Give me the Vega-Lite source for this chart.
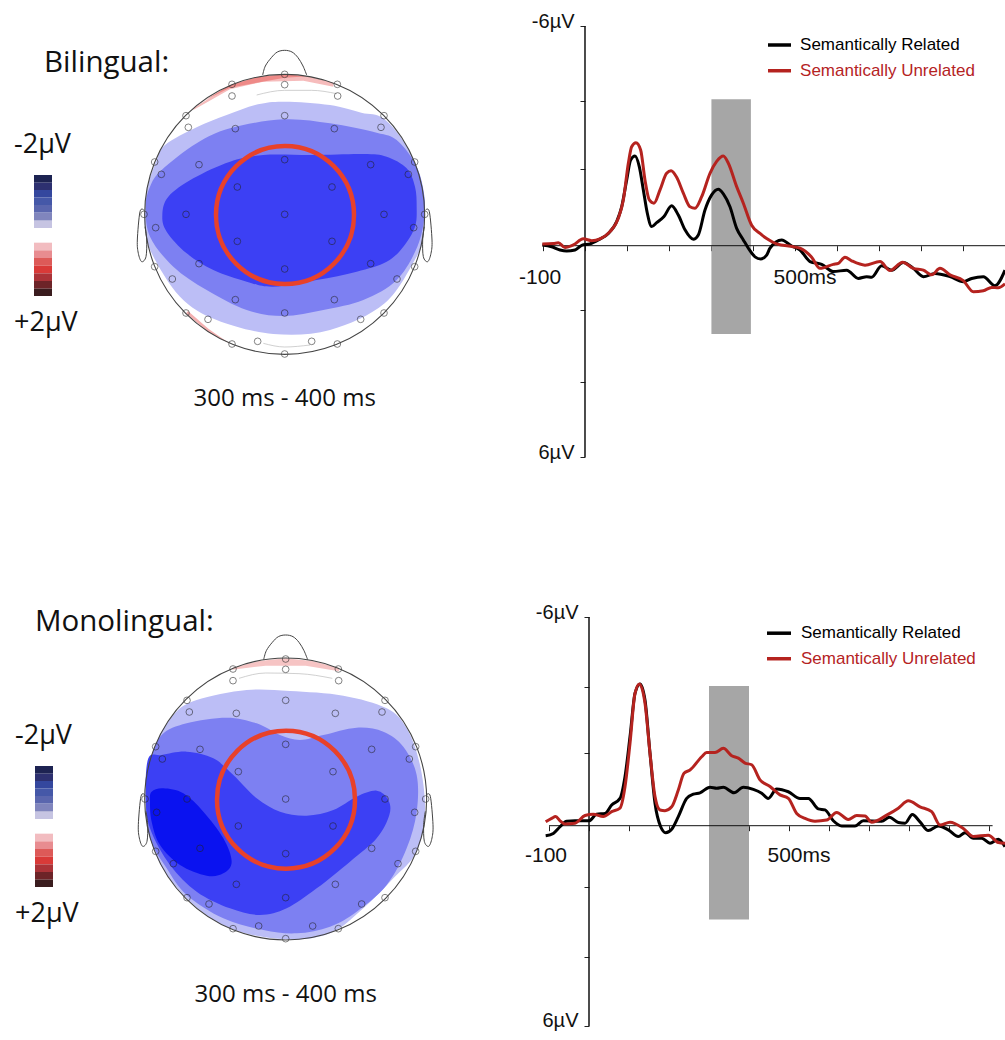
{"$schema":"https://vega.github.io/schema/vega-lite/v6.json","padding":0,"background":"white","bounds":"flush","columns":2,"spacing":0,"resolve":{"scale":{"color":"independent"}},"config":{"view":{"stroke":null},"concat":{"spacing":0}},
"datasets":{
"electrodes":[{"x":0,"y":420},{"x":0,"y":389},{"x":-158,"y":390},{"x":158,"y":390},{"x":-158,"y":355},{"x":159,"y":355},{"x":-296,"y":296},{"x":298,"y":296},{"x":0,"y":296},{"x":-289,"y":261},{"x":289,"y":261},{"x":-148,"y":257},{"x":149,"y":257},{"x":-390,"y":157},{"x":390,"y":157},{"x":-257,"y":149},{"x":258,"y":149},{"x":-370,"y":120},{"x":371,"y":120},{"x":0,"y":164},{"x":-142,"y":82},{"x":142,"y":82},{"x":-422,"y":0},{"x":420,"y":0},{"x":-296,"y":0},{"x":0,"y":0},{"x":298,"y":0},{"x":-387,"y":-40},{"x":387,"y":-40},{"x":-142,"y":-81},{"x":142,"y":-81},{"x":-390,"y":-157},{"x":390,"y":-157},{"x":-257,"y":-148},{"x":258,"y":-148},{"x":0,"y":-164},{"x":-337,"y":-194},{"x":337,"y":-194},{"x":-148,"y":-256},{"x":149,"y":-256},{"x":-296,"y":-296},{"x":298,"y":-296},{"x":0,"y":-296},{"x":-230,"y":-315},{"x":228,"y":-315},{"x":-81,"y":-381},{"x":81,"y":-381},{"x":-158,"y":-389},{"x":158,"y":-389},{"x":0,"y":-419}],
"outline":[{"part":"nose","x":-66,"y":418},{"part":"nose","x":-58,"y":445},{"part":"nose","x":-40,"y":470},{"part":"nose","x":-22,"y":487},{"part":"nose","x":0,"y":492},{"part":"nose","x":22,"y":487},{"part":"nose","x":40,"y":470},{"part":"nose","x":55,"y":445},{"part":"nose","x":66,"y":418},
{"part":"earL","x":-422,"y":12},{"part":"earL","x":-434,"y":8},{"part":"earL","x":-442,"y":-77},{"part":"earL","x":-439,"y":-117},{"part":"earL","x":-429,"y":-142},{"part":"earL","x":-416,"y":-127},{"part":"earL","x":-414,"y":-77},{"part":"earL","x":-419,"y":-37},
{"part":"earR","x":422,"y":12},{"part":"earR","x":434,"y":8},{"part":"earR","x":442,"y":-77},{"part":"earR","x":439,"y":-117},{"part":"earR","x":429,"y":-142},{"part":"earR","x":416,"y":-127},{"part":"earR","x":414,"y":-77},{"part":"earR","x":419,"y":-37}],
"centre":[{"x":0,"y":0}],
"ring":[{"x":1,"y":-2}],
"bar_top":[{"level":"n7","x":-752,"x2":-698,"y":118,"y2":95},{"level":"n6","x":-752,"x2":-698,"y":95,"y2":73},{"level":"n5","x":-752,"x2":-698,"y":73,"y2":51},{"level":"n4","x":-752,"x2":-698,"y":51,"y2":28},{"level":"n3","x":-752,"x2":-698,"y":28,"y2":5},{"level":"n2","x":-752,"x2":-698,"y":5,"y2":-19},{"level":"n1","x":-752,"x2":-698,"y":-19,"y2":-41},{"level":"p1","x":-752,"x2":-698,"y":-85,"y2":-108},{"level":"p2","x":-752,"x2":-698,"y":-108,"y2":-131},{"level":"p3","x":-752,"x2":-698,"y":-131,"y2":-154},{"level":"p4","x":-752,"x2":-698,"y":-154,"y2":-177},{"level":"p5","x":-752,"x2":-698,"y":-177,"y2":-200},{"level":"p6","x":-752,"x2":-698,"y":-200,"y2":-223},{"level":"p7","x":-752,"x2":-698,"y":-223,"y2":-245}],
"bar_bot":[{"level":"n7","x":-752,"x2":-698,"y":99,"y2":76},{"level":"n6","x":-752,"x2":-698,"y":76,"y2":54},{"level":"n5","x":-752,"x2":-698,"y":54,"y2":32},{"level":"n4","x":-752,"x2":-698,"y":32,"y2":9},{"level":"n3","x":-752,"x2":-698,"y":9,"y2":-14},{"level":"n2","x":-752,"x2":-698,"y":-14,"y2":-38},{"level":"n1","x":-752,"x2":-698,"y":-38,"y2":-60},{"level":"p1","x":-752,"x2":-698,"y":-104,"y2":-127},{"level":"p2","x":-752,"x2":-698,"y":-127,"y2":-150},{"level":"p3","x":-752,"x2":-698,"y":-150,"y2":-173},{"level":"p4","x":-752,"x2":-698,"y":-173,"y2":-196},{"level":"p5","x":-752,"x2":-698,"y":-196,"y2":-219},{"level":"p6","x":-752,"x2":-698,"y":-219,"y2":-242},{"level":"p7","x":-752,"x2":-698,"y":-242,"y2":-264}],
"t_light":[{"x":-359,"y":208},{"x":-264,"y":261},{"x":-174,"y":298},{"x":-80,"y":330},{"x":0,"y":338},{"x":136,"y":328},{"x":230,"y":305},{"x":296,"y":288},{"x":366,"y":205},{"x":405,"y":110},{"x":420,"y":0},{"x":412,"y":-80},{"x":396,"y":-127},{"x":300,"y":-267},{"x":136,"y":-347},{"x":-34,"y":-359},{"x":-204,"y":-317},{"x":-314,"y":-247},{"x":-399,"y":-117},{"x":-418,"y":-40},{"x":-420,"y":0},{"x":-412,"y":80},{"x":-385,"y":160}],
"t_mid":[{"x":-369,"y":133},{"x":-264,"y":213},{"x":-164,"y":258},{"x":-4,"y":285},{"x":136,"y":273},{"x":276,"y":245},{"x":336,"y":223},{"x":391,"y":153},{"x":415,"y":80},{"x":420,"y":0},{"x":398,"y":-97},{"x":336,"y":-197},{"x":236,"y":-257},{"x":116,"y":-287},{"x":-4,"y":-305},{"x":-114,"y":-287},{"x":-234,"y":-227},{"x":-334,"y":-157},{"x":-404,"y":-67},{"x":-417,"y":23},{"x":-404,"y":83}],
"t_dark":[{"x":-367,"y":-2},{"x":-349,"y":53},{"x":-274,"y":108},{"x":-164,"y":158},{"x":-64,"y":178},{"x":86,"y":178},{"x":236,"y":181},{"x":306,"y":173},{"x":366,"y":138},{"x":391,"y":83},{"x":396,"y":23},{"x":391,"y":-37},{"x":356,"y":-97},{"x":306,"y":-142},{"x":216,"y":-172},{"x":96,"y":-197},{"x":-34,"y":-217},{"x":-114,"y":-202},{"x":-214,"y":-167},{"x":-294,"y":-117},{"x":-354,"y":-52}],
"t_pink":[{"x":146,"y":395},{"x":80,"y":412},{"x":0,"y":420},{"x":-80,"y":412},{"x":-164,"y":388},{"x":-274,"y":318},{"x":-274,"y":313},{"x":-164,"y":375},{"x":-64,"y":398},{"x":56,"y":401},{"x":146,"y":383}],
"t_red":[{"x":-240,"y":342},{"x":-164,"y":388},{"x":-80,"y":412},{"x":0,"y":420},{"x":70,"y":414},{"x":0,"y":410},{"x":-164,"y":380}],
"t_pink2":[{"x":-296,"y":-297},{"x":-230,"y":-352},{"x":-164,"y":-388},{"x":-228,"y":-344},{"x":-290,"y":-290}],
"t_thin":[{"part":"a","x":-84,"y":358},{"part":"a","x":0,"y":372},{"part":"a","x":80,"y":372},{"part":"a","x":156,"y":362},{"part":"b","x":-64,"y":-387},{"part":"b","x":0,"y":-398},{"part":"b","x":76,"y":-392}],
"b_light":[{"x":-337,"y":252},{"x":-267,"y":297},{"x":-117,"y":327},{"x":13,"y":324},{"x":173,"y":310},{"x":303,"y":272},{"x":363,"y":212},{"x":403,"y":102},{"x":418,"y":-38},{"x":393,"y":-158},{"x":323,"y":-238},{"x":233,"y":-328},{"x":133,"y":-403},{"x":0,"y":-421},{"x":-167,"y":-388},{"x":-297,"y":-298},{"x":-390,"y":-166},{"x":-420,"y":2},{"x":-395,"y":150}],
"b_mid":[{"x":-372,"y":192},{"x":-297,"y":227},{"x":-177,"y":244},{"x":-87,"y":227},{"x":-17,"y":192},{"x":43,"y":177},{"x":113,"y":192},{"x":213,"y":214},{"x":293,"y":202},{"x":353,"y":157},{"x":393,"y":72},{"x":393,"y":-38},{"x":363,"y":-148},{"x":303,"y":-258},{"x":213,"y":-338},{"x":133,"y":-383},{"x":33,"y":-403},{"x":-67,"y":-393},{"x":-187,"y":-358},{"x":-297,"y":-288},{"x":-357,"y":-208},{"x":-407,"y":-118},{"x":-420,"y":2},{"x":-407,"y":112}],
"b_dark":[{"x":-412,"y":122},{"x":-372,"y":132},{"x":-297,"y":142},{"x":-217,"y":122},{"x":-157,"y":72},{"x":-87,"y":2},{"x":-17,"y":-38},{"x":63,"y":-50},{"x":143,"y":-33},{"x":213,"y":7},{"x":273,"y":25},{"x":308,"y":-3},{"x":311,"y":-48},{"x":273,"y":-118},{"x":193,"y":-188},{"x":93,"y":-268},{"x":3,"y":-328},{"x":-77,"y":-348},{"x":-167,"y":-328},{"x":-267,"y":-278},{"x":-347,"y":-198},{"x":-407,"y":-88},{"x":-420,"y":12}],
"b_darkest":[{"x":-407,"y":-8},{"x":-402,"y":22},{"x":-367,"y":32},{"x":-307,"y":17},{"x":-247,"y":-38},{"x":-187,"y":-118},{"x":-162,"y":-188},{"x":-187,"y":-223},{"x":-237,"y":-230},{"x":-317,"y":-198},{"x":-377,"y":-138},{"x":-402,"y":-68}],
"b_pink":[{"x":160,"y":393},{"x":80,"y":414},{"x":0,"y":422},{"x":-80,"y":414},{"x":-160,"y":393},{"x":-160,"y":388},{"x":-60,"y":400},{"x":60,"y":400},{"x":160,"y":383}],
"b_thin":[{"part":"a","x":-140,"y":362},{"part":"a","x":-60,"y":378},{"part":"a","x":40,"y":376},{"part":"a","x":140,"y":362}],
"erp_top":[
{"series":"Semantically Related","ms":-101.6,"uv":-0.02},{"series":"Semantically Related","ms":-79.4,"uv":0.03},{"series":"Semantically Related","ms":-59.5,"uv":0.12},{"series":"Semantically Related","ms":-43.7,"uv":0.15},{"series":"Semantically Related","ms":-23.8,"uv":0.12},{"series":"Semantically Related","ms":-7.9,"uv":-0.01},{"series":"Semantically Related","ms":11.9,"uv":-0.05},{"series":"Semantically Related","ms":31.7,"uv":-0.16},{"series":"Semantically Related","ms":55.6,"uv":-0.34},{"series":"Semantically Related","ms":75.4,"uv":-0.67},{"series":"Semantically Related","ms":87.3,"uv":-1.08},{"series":"Semantically Related","ms":99.2,"uv":-1.82},{"series":"Semantically Related","ms":108.7,"uv":-2.38},{"series":"Semantically Related","ms":119,"uv":-2.49},{"series":"Semantically Related","ms":129.4,"uv":-2.19},{"series":"Semantically Related","ms":138.9,"uv":-1.55},{"series":"Semantically Related","ms":148.4,"uv":-0.9},{"series":"Semantically Related","ms":158.7,"uv":-0.53},{"series":"Semantically Related","ms":170.6,"uv":-0.64},{"series":"Semantically Related","ms":188.1,"uv":-0.81},{"series":"Semantically Related","ms":206.3,"uv":-1.11},{"series":"Semantically Related","ms":222.2,"uv":-0.85},{"series":"Semantically Related","ms":238.1,"uv":-0.44},{"series":"Semantically Related","ms":257.9,"uv":-0.18},{"series":"Semantically Related","ms":269.8,"uv":-0.3},{"series":"Semantically Related","ms":285.7,"uv":-0.99},{"series":"Semantically Related","ms":301.6,"uv":-1.41},{"series":"Semantically Related","ms":317.5,"uv":-1.57},{"series":"Semantically Related","ms":329.4,"uv":-1.44},{"series":"Semantically Related","ms":345.2,"uv":-1.08},{"series":"Semantically Related","ms":361.1,"uv":-0.48},{"series":"Semantically Related","ms":377,"uv":-0.16},{"series":"Semantically Related","ms":388.9,"uv":0.07},{"series":"Semantically Related","ms":404.8,"uv":0.31},{"series":"Semantically Related","ms":418.3,"uv":0.37},{"series":"Semantically Related","ms":432.5,"uv":0.26},{"series":"Semantically Related","ms":440.5,"uv":0.07},{"series":"Semantically Related","ms":468.3,"uv":-0.16},{"series":"Semantically Related","ms":492.1,"uv":0.01},{"series":"Semantically Related","ms":511.9,"uv":0.12},{"series":"Semantically Related","ms":535.7,"uv":0.44},{"series":"Semantically Related","ms":563.5,"uv":0.52},{"series":"Semantically Related","ms":591.3,"uv":0.72},{"series":"Semantically Related","ms":623,"uv":0.68},{"series":"Semantically Related","ms":650.8,"uv":0.91},{"series":"Semantically Related","ms":670.6,"uv":0.86},{"series":"Semantically Related","ms":682.5,"uv":0.88},{"series":"Semantically Related","ms":706.3,"uv":0.56},{"series":"Semantically Related","ms":730.2,"uv":0.68},{"series":"Semantically Related","ms":757.9,"uv":0.47},{"series":"Semantically Related","ms":781.7,"uv":0.63},{"series":"Semantically Related","ms":805.6,"uv":0.86},{"series":"Semantically Related","ms":833.3,"uv":0.77},{"series":"Semantically Related","ms":869,"uv":0.86},{"series":"Semantically Related","ms":900.8,"uv":1.0},{"series":"Semantically Related","ms":920.6,"uv":0.91},{"series":"Semantically Related","ms":948.4,"uv":0.86},{"series":"Semantically Related","ms":976.2,"uv":1.11},{"series":"Semantically Related","ms":1000,"uv":0.68},
{"series":"Semantically Unrelated","ms":-101.6,"uv":-0.05},{"series":"Semantically Unrelated","ms":-75.4,"uv":-0.06},{"series":"Semantically Unrelated","ms":-63.5,"uv":-0.08},{"series":"Semantically Unrelated","ms":-47.6,"uv":0.05},{"series":"Semantically Unrelated","ms":-27.8,"uv":-0.02},{"series":"Semantically Unrelated","ms":-4,"uv":-0.19},{"series":"Semantically Unrelated","ms":15.9,"uv":-0.14},{"series":"Semantically Unrelated","ms":35.7,"uv":-0.19},{"series":"Semantically Unrelated","ms":59.5,"uv":-0.39},{"series":"Semantically Unrelated","ms":79.4,"uv":-0.76},{"series":"Semantically Unrelated","ms":91.3,"uv":-1.27},{"series":"Semantically Unrelated","ms":103.2,"uv":-2.29},{"series":"Semantically Unrelated","ms":111.1,"uv":-2.75},{"series":"Semantically Unrelated","ms":121.4,"uv":-2.86},{"series":"Semantically Unrelated","ms":132.5,"uv":-2.66},{"series":"Semantically Unrelated","ms":142.9,"uv":-1.82},{"series":"Semantically Unrelated","ms":153.2,"uv":-1.27},{"series":"Semantically Unrelated","ms":164.3,"uv":-1.18},{"series":"Semantically Unrelated","ms":178.6,"uv":-1.55},{"series":"Semantically Unrelated","ms":194.4,"uv":-2.01},{"series":"Semantically Unrelated","ms":204.8,"uv":-2.08},{"series":"Semantically Unrelated","ms":218.3,"uv":-1.9},{"series":"Semantically Unrelated","ms":234.1,"uv":-1.46},{"series":"Semantically Unrelated","ms":250,"uv":-1.08},{"series":"Semantically Unrelated","ms":261.9,"uv":-1.04},{"series":"Semantically Unrelated","ms":277.8,"uv":-1.36},{"series":"Semantically Unrelated","ms":297.6,"uv":-2.01},{"series":"Semantically Unrelated","ms":313.5,"uv":-2.34},{"series":"Semantically Unrelated","ms":329.4,"uv":-2.49},{"series":"Semantically Unrelated","ms":341.3,"uv":-2.29},{"series":"Semantically Unrelated","ms":361.1,"uv":-1.64},{"series":"Semantically Unrelated","ms":377,"uv":-1.18},{"series":"Semantically Unrelated","ms":396.8,"uv":-0.57},{"series":"Semantically Unrelated","ms":416.7,"uv":-0.34},{"series":"Semantically Unrelated","ms":432.5,"uv":-0.2},{"series":"Semantically Unrelated","ms":456.3,"uv":-0.05},{"series":"Semantically Unrelated","ms":496,"uv":0.03},{"series":"Semantically Unrelated","ms":511.9,"uv":0.07},{"series":"Semantically Unrelated","ms":539.7,"uv":0.32},{"series":"Semantically Unrelated","ms":559.5,"uv":0.63},{"series":"Semantically Unrelated","ms":591.3,"uv":0.52},{"series":"Semantically Unrelated","ms":603.2,"uv":0.49},{"series":"Semantically Unrelated","ms":619,"uv":0.32},{"series":"Semantically Unrelated","ms":634.9,"uv":0.42},{"series":"Semantically Unrelated","ms":666.7,"uv":0.54},{"series":"Semantically Unrelated","ms":702.4,"uv":0.44},{"series":"Semantically Unrelated","ms":726.2,"uv":0.69},{"series":"Semantically Unrelated","ms":756.3,"uv":0.46},{"series":"Semantically Unrelated","ms":781.7,"uv":0.63},{"series":"Semantically Unrelated","ms":805.6,"uv":0.68},{"series":"Semantically Unrelated","ms":825.4,"uv":0.81},{"series":"Semantically Unrelated","ms":845.2,"uv":0.63},{"series":"Semantically Unrelated","ms":869,"uv":0.81},{"series":"Semantically Unrelated","ms":900.8,"uv":0.97},{"series":"Semantically Unrelated","ms":924.6,"uv":1.28},{"series":"Semantically Unrelated","ms":948.4,"uv":1.25},{"series":"Semantically Unrelated","ms":968.3,"uv":1.16},{"series":"Semantically Unrelated","ms":984.1,"uv":1.17},{"series":"Semantically Unrelated","ms":1000,"uv":1.06}],
"erp_bot":[
{"series":"Semantically Related","ms":-108.3,"uv":0.29},{"series":"Semantically Related","ms":-89.2,"uv":0.22},{"series":"Semantically Related","ms":-72.5,"uv":0.03},{"series":"Semantically Related","ms":-55.8,"uv":-0.13},{"series":"Semantically Related","ms":-35,"uv":-0.14},{"series":"Semantically Related","ms":0,"uv":-0.14},{"series":"Semantically Related","ms":19.2,"uv":-0.33},{"series":"Semantically Related","ms":40,"uv":-0.35},{"series":"Semantically Related","ms":56.7,"uv":-0.59},{"series":"Semantically Related","ms":77.5,"uv":-0.78},{"series":"Semantically Related","ms":90,"uv":-1.4},{"series":"Semantically Related","ms":102.5,"uv":-2.54},{"series":"Semantically Related","ms":115,"uv":-3.78},{"series":"Semantically Related","ms":127.5,"uv":-4.05},{"series":"Semantically Related","ms":140,"uv":-3.59},{"series":"Semantically Related","ms":152.5,"uv":-2.07},{"series":"Semantically Related","ms":165,"uv":-0.64},{"series":"Semantically Related","ms":179.2,"uv":0.03},{"series":"Semantically Related","ms":191.7,"uv":0.2},{"series":"Semantically Related","ms":206.7,"uv":0.1},{"series":"Semantically Related","ms":223.3,"uv":-0.26},{"series":"Semantically Related","ms":244.2,"uv":-0.78},{"series":"Semantically Related","ms":260.8,"uv":-0.9},{"series":"Semantically Related","ms":277.5,"uv":-0.94},{"series":"Semantically Related","ms":302.5,"uv":-1.1},{"series":"Semantically Related","ms":319.2,"uv":-1.07},{"series":"Semantically Related","ms":335.8,"uv":-1.1},{"series":"Semantically Related","ms":362.5,"uv":-0.94},{"series":"Semantically Related","ms":385.8,"uv":-1.1},{"series":"Semantically Related","ms":410.8,"uv":-1.04},{"series":"Semantically Related","ms":431.7,"uv":-0.93},{"series":"Semantically Related","ms":448,"uv":-0.78},{"series":"Semantically Related","ms":469.2,"uv":-1.05},{"series":"Semantically Related","ms":498.3,"uv":-0.97},{"series":"Semantically Related","ms":527.5,"uv":-0.78},{"series":"Semantically Related","ms":548.3,"uv":-0.78},{"series":"Semantically Related","ms":573.3,"uv":-0.48},{"series":"Semantically Related","ms":590,"uv":-0.45},{"series":"Semantically Related","ms":610.8,"uv":-0.14},{"series":"Semantically Related","ms":631.7,"uv":0.01},{"series":"Semantically Related","ms":665,"uv":0.01},{"series":"Semantically Related","ms":685.8,"uv":-0.14},{"series":"Semantically Related","ms":731.7,"uv":-0.13},{"series":"Semantically Related","ms":750.8,"uv":-0.24},{"series":"Semantically Related","ms":773.3,"uv":-0.09},{"series":"Semantically Related","ms":790,"uv":-0.07},{"series":"Semantically Related","ms":808.3,"uv":-0.32},{"series":"Semantically Related","ms":827.5,"uv":-0.11},{"series":"Semantically Related","ms":848.3,"uv":0.14},{"series":"Semantically Related","ms":873.3,"uv":0.01},{"series":"Semantically Related","ms":898.3,"uv":0.12},{"series":"Semantically Related","ms":923.3,"uv":0.31},{"series":"Semantically Related","ms":940,"uv":0.2},{"series":"Semantically Related","ms":960.8,"uv":0.36},{"series":"Semantically Related","ms":981.7,"uv":0.36},{"series":"Semantically Related","ms":1002.5,"uv":0.5},{"series":"Semantically Related","ms":1023.3,"uv":0.39},{"series":"Semantically Related","ms":1040,"uv":0.6},
{"series":"Semantically Unrelated","ms":-108.3,"uv":-0.11},{"series":"Semantically Unrelated","ms":-93.3,"uv":-0.21},{"series":"Semantically Unrelated","ms":-83.3,"uv":-0.26},{"series":"Semantically Unrelated","ms":-72.5,"uv":-0.14},{"series":"Semantically Unrelated","ms":-60,"uv":-0.05},{"series":"Semantically Unrelated","ms":-35,"uv":-0.07},{"series":"Semantically Unrelated","ms":-10,"uv":-0.29},{"series":"Semantically Unrelated","ms":10.8,"uv":-0.33},{"series":"Semantically Unrelated","ms":35.8,"uv":-0.26},{"series":"Semantically Unrelated","ms":56.7,"uv":-0.4},{"series":"Semantically Unrelated","ms":77.5,"uv":-0.5},{"series":"Semantically Unrelated","ms":90,"uv":-1.11},{"series":"Semantically Unrelated","ms":102.5,"uv":-2.35},{"series":"Semantically Unrelated","ms":115,"uv":-3.78},{"series":"Semantically Unrelated","ms":125.8,"uv":-4.05},{"series":"Semantically Unrelated","ms":140,"uv":-3.5},{"series":"Semantically Unrelated","ms":152.5,"uv":-2.07},{"series":"Semantically Unrelated","ms":165,"uv":-0.83},{"series":"Semantically Unrelated","ms":177.5,"uv":-0.45},{"series":"Semantically Unrelated","ms":190,"uv":-0.43},{"series":"Semantically Unrelated","ms":206.7,"uv":-0.54},{"series":"Semantically Unrelated","ms":223.3,"uv":-1.02},{"series":"Semantically Unrelated","ms":237.5,"uv":-1.5},{"series":"Semantically Unrelated","ms":252.5,"uv":-1.59},{"series":"Semantically Unrelated","ms":281.7,"uv":-1.97},{"series":"Semantically Unrelated","ms":294.2,"uv":-2.09},{"series":"Semantically Unrelated","ms":315,"uv":-2.09},{"series":"Semantically Unrelated","ms":335.8,"uv":-2.21},{"series":"Semantically Unrelated","ms":356.7,"uv":-2.0},{"series":"Semantically Unrelated","ms":373.3,"uv":-1.93},{"series":"Semantically Unrelated","ms":390,"uv":-1.79},{"series":"Semantically Unrelated","ms":406.7,"uv":-1.74},{"series":"Semantically Unrelated","ms":427.5,"uv":-1.31},{"series":"Semantically Unrelated","ms":452.5,"uv":-1.12},{"series":"Semantically Unrelated","ms":477.5,"uv":-0.88},{"series":"Semantically Unrelated","ms":498.3,"uv":-0.78},{"series":"Semantically Unrelated","ms":519.2,"uv":-0.35},{"series":"Semantically Unrelated","ms":540,"uv":-0.21},{"series":"Semantically Unrelated","ms":565,"uv":-0.13},{"series":"Semantically Unrelated","ms":594.2,"uv":-0.16},{"series":"Semantically Unrelated","ms":619.2,"uv":-0.38},{"series":"Semantically Unrelated","ms":648.3,"uv":-0.18},{"series":"Semantically Unrelated","ms":669.2,"uv":-0.29},{"series":"Semantically Unrelated","ms":690,"uv":-0.28},{"series":"Semantically Unrelated","ms":706.7,"uv":-0.1},{"series":"Semantically Unrelated","ms":744.2,"uv":-0.3},{"series":"Semantically Unrelated","ms":773.3,"uv":-0.5},{"series":"Semantically Unrelated","ms":798.3,"uv":-0.71},{"series":"Semantically Unrelated","ms":827.5,"uv":-0.54},{"series":"Semantically Unrelated","ms":856.7,"uv":-0.4},{"series":"Semantically Unrelated","ms":877.5,"uv":-0.02},{"series":"Semantically Unrelated","ms":902.5,"uv":-0.1},{"series":"Semantically Unrelated","ms":935.8,"uv":0.08},{"series":"Semantically Unrelated","ms":960.8,"uv":0.31},{"series":"Semantically Unrelated","ms":998.3,"uv":0.27},{"series":"Semantically Unrelated","ms":1023.3,"uv":0.48},{"series":"Semantically Unrelated","ms":1040,"uv":0.5}]
},
"concat":[
{"width":502,"height":520,
"encoding":{"x":{"field":"x","type":"quantitative","scale":{"domain":[-854,652],"nice":false,"zero":false},"axis":null},"y":{"field":"y","type":"quantitative","scale":{"domain":[-917,643],"nice":false,"zero":false},"axis":null}},
"layer":[
{"data":{"name":"t_light"},"transform":[{"window":[{"op":"row_number","as":"i"}]}],"mark":{"type":"line","interpolate":"cardinal-closed","fill":"#bcbef6","strokeWidth":0,"stroke":"transparent"},"encoding":{"order":{"field":"i","type":"quantitative"}}},
{"data":{"name":"t_mid"},"transform":[{"window":[{"op":"row_number","as":"i"}]}],"mark":{"type":"line","interpolate":"cardinal-closed","fill":"#7d80f2","strokeWidth":0,"stroke":"transparent"},"encoding":{"order":{"field":"i","type":"quantitative"}}},
{"data":{"name":"t_dark"},"transform":[{"window":[{"op":"row_number","as":"i"}]}],"mark":{"type":"line","interpolate":"cardinal-closed","fill":"#3c40f4","strokeWidth":0,"stroke":"transparent"},"encoding":{"order":{"field":"i","type":"quantitative"}}},
{"data":{"name":"t_pink"},"transform":[{"window":[{"op":"row_number","as":"i"}]}],"mark":{"type":"line","interpolate":"linear","fill":"#f6bcbc","strokeWidth":0,"stroke":"transparent"},"encoding":{"order":{"field":"i","type":"quantitative"}}},
{"data":{"name":"t_red"},"transform":[{"window":[{"op":"row_number","as":"i"}]}],"mark":{"type":"line","interpolate":"linear","fill":"#ee8a88","strokeWidth":0,"stroke":"transparent"},"encoding":{"order":{"field":"i","type":"quantitative"}}},
{"data":{"name":"t_pink2"},"transform":[{"window":[{"op":"row_number","as":"i"}]}],"mark":{"type":"line","interpolate":"linear","fill":"#f4b0b0","strokeWidth":0,"stroke":"transparent"},"encoding":{"order":{"field":"i","type":"quantitative"}}},
{"data":{"name":"t_thin"},"mark":{"type":"line","stroke":"#bbbbbb","strokeWidth":0.7,"interpolate":"monotone"},"encoding":{"detail":{"field":"part"}}},
{"data":{"name":"electrodes"},"mark":{"type":"point","shape":"circle","filled":false,"size":45,"stroke":"#222222","strokeWidth":0.8,"opacity":0.7}},
{"data":{"name":"centre"},"mark":{"type":"point","shape":"circle","filled":false,"size":78400,"stroke":"#444444","strokeWidth":1.1,"opacity":1}},
{"data":{"name":"outline"},"transform":[{"window":[{"op":"row_number","as":"i"}]}],"mark":{"type":"line","stroke":"#444444","strokeWidth":1,"interpolate":"cardinal"},"encoding":{"detail":{"field":"part"},"order":{"field":"i","type":"quantitative"}}},
{"data":{"name":"ring"},"mark":{"type":"point","shape":"circle","filled":false,"size":19044,"stroke":"#e8412a","strokeWidth":4.5,"opacity":1}},
{"data":{"name":"bar_top"},"mark":{"type":"rect"},"encoding":{"x2":{"field":"x2"},"y2":{"field":"y2"},"color":{"field":"level","type":"nominal","legend":null,"scale":{"domain":["n7","n6","n5","n4","n3","n2","n1","p1","p2","p3","p4","p5","p6","p7"],"range":["#1d2352","#2d3070","#34479e","#4558a8","#5a66ae","#8085bd","#c6c4e2","#f2bcc0","#e88c90","#dd5a58","#d93a38","#ab3338","#6d2428","#3a1c1e"]}}}},
{"data":{"values":[{"x":-722,"y":454,"label":"Bilingual:"}]},"mark":{"type":"text","align":"left","baseline":"middle","font":"Open Sans","fontSize":29.5,"color":"#111"},"encoding":{"text":{"field":"label"}}},
{"data":{"values":[{"x":-812,"y":208,"label":"-2µV"},{"x":-812,"y":-326,"label":"+2µV"}]},"mark":{"type":"text","align":"left","baseline":"middle","font":"Open Sans","fontSize":27,"color":"#111"},"encoding":{"text":{"field":"label"}}},
{"data":{"values":[{"x":0,"y":-553,"label":"300 ms - 400 ms"}]},"mark":{"type":"text","align":"center","baseline":"middle","font":"Open Sans","fontSize":24,"color":"#111"},"encoding":{"text":{"field":"label"}}}
]},
{"width":503,"height":520,
"encoding":{"x":{"field":"ms","type":"quantitative","scale":{"domain":[-197.6,1000],"nice":false,"zero":false},"axis":{"orient":"bottom","offset":-274.3,"values":[-100,0,100,200,300,400,500,600,700,800,900,1000],"labels":false,"title":null,"domain":false,"grid":false,"tickSize":5,"tickColor":"#222"}},"y":{"field":"uv","type":"quantitative","scale":{"domain":[7.62,-6.825],"nice":false,"zero":false},"axis":{"orient":"left","offset":-83,"values":[-6.1,-4.03,-2.12,1.79,3.8,5.87],"labelExpr":"datum.value<-5?'-6µV':datum.value>5?'6µV':''","labelFont":"Liberation Sans","labelFontSize":20,"labelColor":"#111","labelBaseline":"middle","labelOffset":-5,"labelPadding":6,"title":null,"domain":false,"grid":false,"tickSize":5,"tickColor":"#222"}}},
"layer":[
{"data":{"values":[{"ms":301,"ms2":395,"uv":-4.07,"uv2":2.45}]},"mark":{"type":"rect","color":"#a6a6a6"},"encoding":{"x2":{"field":"ms2"},"y2":{"field":"uv2"}}},
{"data":{"values":[{"ms":-100,"ms2":1000,"uv":0}]},"mark":{"type":"rule","color":"#111","strokeWidth":1},"encoding":{"x2":{"field":"ms2"}}},
{"data":{"values":[{"ms":0,"uv":-6.1,"uv2":5.87}]},"mark":{"type":"rule","color":"#111","strokeWidth":1.5},"encoding":{"y2":{"field":"uv2"}}},
{"data":{"name":"erp_top"},"mark":{"type":"line","strokeWidth":3,"interpolate":"monotone","clip":true},"encoding":{"color":{"field":"series","type":"nominal","legend":null,"scale":{"domain":["Semantically Related","Semantically Unrelated"],"range":["#000000","#b5231f"]}}}},
{"data":{"values":[{"ms":435.7,"ms2":490.5,"uv":-5.575,"series":"Semantically Related"},{"ms":435.7,"ms2":490.5,"uv":-4.86,"series":"Semantically Unrelated"}]},"mark":{"type":"rule","strokeWidth":3.5},"encoding":{"x2":{"field":"ms2"},"color":{"field":"series","type":"nominal","legend":null}}},
{"data":{"values":[{"ms":512,"uv":-5.57,"series":"Semantically Related"},{"ms":512,"uv":-4.85,"series":"Semantically Unrelated"}]},"mark":{"type":"text","align":"left","baseline":"middle","font":"Liberation Sans","fontSize":17},"encoding":{"text":{"field":"series"},"color":{"field":"series","type":"nominal","legend":null}}},
{"data":{"values":[{"ms":-107,"uv":0.9,"label":"-100"},{"ms":524,"uv":0.9,"label":"500ms"}]},"mark":{"type":"text","align":"center","baseline":"middle","font":"Liberation Sans","fontSize":21,"color":"#111"},"encoding":{"text":{"field":"label"}}}
]},
{"width":502,"height":520,
"encoding":{"x":{"field":"x","type":"quantitative","scale":{"domain":[-857,649],"nice":false,"zero":false},"axis":null},"y":{"field":"y","type":"quantitative","scale":{"domain":[-723,837],"nice":false,"zero":false},"axis":null}},
"layer":[
{"data":{"name":"b_light"},"transform":[{"window":[{"op":"row_number","as":"i"}]}],"mark":{"type":"line","interpolate":"cardinal-closed","fill":"#bcbef6","strokeWidth":0,"stroke":"transparent"},"encoding":{"order":{"field":"i","type":"quantitative"}}},
{"data":{"name":"b_mid"},"transform":[{"window":[{"op":"row_number","as":"i"}]}],"mark":{"type":"line","interpolate":"cardinal-closed","fill":"#7d80f2","strokeWidth":0,"stroke":"transparent"},"encoding":{"order":{"field":"i","type":"quantitative"}}},
{"data":{"name":"b_dark"},"transform":[{"window":[{"op":"row_number","as":"i"}]}],"mark":{"type":"line","interpolate":"cardinal-closed","fill":"#3c40f4","strokeWidth":0,"stroke":"transparent"},"encoding":{"order":{"field":"i","type":"quantitative"}}},
{"data":{"name":"b_darkest"},"transform":[{"window":[{"op":"row_number","as":"i"}]}],"mark":{"type":"line","interpolate":"cardinal-closed","fill":"#0a12f0","strokeWidth":0,"stroke":"transparent"},"encoding":{"order":{"field":"i","type":"quantitative"}}},
{"data":{"name":"b_pink"},"transform":[{"window":[{"op":"row_number","as":"i"}]}],"mark":{"type":"line","interpolate":"linear","fill":"#f6c4c4","strokeWidth":0,"stroke":"transparent"},"encoding":{"order":{"field":"i","type":"quantitative"}}},
{"data":{"name":"b_thin"},"mark":{"type":"line","stroke":"#bbbbbb","strokeWidth":0.7,"interpolate":"monotone"},"encoding":{"detail":{"field":"part"}}},
{"data":{"name":"electrodes"},"mark":{"type":"point","shape":"circle","filled":false,"size":45,"stroke":"#222222","strokeWidth":0.8,"opacity":0.7}},
{"data":{"name":"centre"},"mark":{"type":"point","shape":"circle","filled":false,"size":79500,"stroke":"#444444","strokeWidth":1.1,"opacity":1}},
{"data":{"name":"outline"},"transform":[{"window":[{"op":"row_number","as":"i"}]}],"mark":{"type":"line","stroke":"#444444","strokeWidth":1,"interpolate":"cardinal"},"encoding":{"detail":{"field":"part"},"order":{"field":"i","type":"quantitative"}}},
{"data":{"name":"ring"},"mark":{"type":"point","shape":"circle","filled":false,"size":19044,"stroke":"#e8412a","strokeWidth":4.5,"opacity":1}},
{"data":{"name":"bar_bot"},"mark":{"type":"rect"},"encoding":{"x2":{"field":"x2"},"y2":{"field":"y2"},"color":{"field":"level","type":"nominal","legend":null,"scale":{"domain":["n7","n6","n5","n4","n3","n2","n1","p1","p2","p3","p4","p5","p6","p7"],"range":["#1d2352","#2d3070","#34479e","#4558a8","#5a66ae","#8085bd","#c6c4e2","#f2bcc0","#e88c90","#dd5a58","#d93a38","#ab3338","#6d2428","#3a1c1e"]}}}},
{"data":{"values":[{"x":-752,"y":531,"label":"Monolingual:"}]},"mark":{"type":"text","align":"left","baseline":"middle","font":"Open Sans","fontSize":29.5,"color":"#111"},"encoding":{"text":{"field":"label"}}},
{"data":{"values":[{"x":-812,"y":189,"label":"-2µV"},{"x":-812,"y":-345,"label":"+2µV"}]},"mark":{"type":"text","align":"left","baseline":"middle","font":"Open Sans","fontSize":27,"color":"#111"},"encoding":{"text":{"field":"label"}}},
{"data":{"values":[{"x":0,"y":-589,"label":"300 ms - 400 ms"}]},"mark":{"type":"text","align":"center","baseline":"middle","font":"Open Sans","fontSize":24,"color":"#111"},"encoding":{"text":{"field":"label"}}}
]},
{"width":503,"height":520,
"encoding":{"x":{"field":"ms","type":"quantitative","scale":{"domain":[-217.5,1040],"nice":false,"zero":false},"axis":{"orient":"bottom","offset":-214.3,"values":[-100,0,100,200,300,400,500,600,700,800,900,1000],"labels":false,"title":null,"domain":false,"grid":false,"tickSize":5,"tickColor":"#222"}},"y":{"field":"uv","type":"quantitative","scale":{"domain":[6.123,-8.734],"nice":false,"zero":false},"axis":{"orient":"left","offset":-87,"values":[-5.96,-3.95,-2.07,1.74,3.75,5.72],"labelExpr":"datum.value<-5?'-6µV':datum.value>5?'6µV':''","labelFont":"Liberation Sans","labelFontSize":20,"labelColor":"#111","labelBaseline":"middle","labelOffset":-5,"labelPadding":6,"title":null,"domain":false,"grid":false,"tickSize":5,"tickColor":"#222"}}},
"layer":[
{"data":{"values":[{"ms":300,"ms2":400,"uv":-3.99,"uv2":2.68}]},"mark":{"type":"rect","color":"#a6a6a6"},"encoding":{"x2":{"field":"ms2"},"y2":{"field":"uv2"}}},
{"data":{"values":[{"ms":-100,"ms2":1009,"uv":0}]},"mark":{"type":"rule","color":"#111","strokeWidth":1},"encoding":{"x2":{"field":"ms2"}}},
{"data":{"values":[{"ms":0,"uv":-5.96,"uv2":5.72}]},"mark":{"type":"rule","color":"#111","strokeWidth":1.5},"encoding":{"y2":{"field":"uv2"}}},
{"data":{"name":"erp_bot"},"mark":{"type":"line","strokeWidth":3,"interpolate":"monotone","clip":true},"encoding":{"color":{"field":"series","type":"nominal","legend":null,"scale":{"domain":["Semantically Related","Semantically Unrelated"],"range":["#000000","#b5231f"]}}}},
{"data":{"values":[{"ms":445,"ms2":505,"uv":-5.5,"series":"Semantically Related"},{"ms":445,"ms2":505,"uv":-4.77,"series":"Semantically Unrelated"}]},"mark":{"type":"rule","strokeWidth":3.5},"encoding":{"x2":{"field":"ms2"},"color":{"field":"series","type":"nominal","legend":null}}},
{"data":{"values":[{"ms":530,"uv":-5.5,"series":"Semantically Related"},{"ms":530,"uv":-4.77,"series":"Semantically Unrelated"}]},"mark":{"type":"text","align":"left","baseline":"middle","font":"Liberation Sans","fontSize":17},"encoding":{"text":{"field":"series"},"color":{"field":"series","type":"nominal","legend":null}}},
{"data":{"values":[{"ms":-107.5,"uv":0.86,"label":"-100"},{"ms":525,"uv":0.87,"label":"500ms"}]},"mark":{"type":"text","align":"center","baseline":"middle","font":"Liberation Sans","fontSize":21,"color":"#111"},"encoding":{"text":{"field":"label"}}}
]}
]}
